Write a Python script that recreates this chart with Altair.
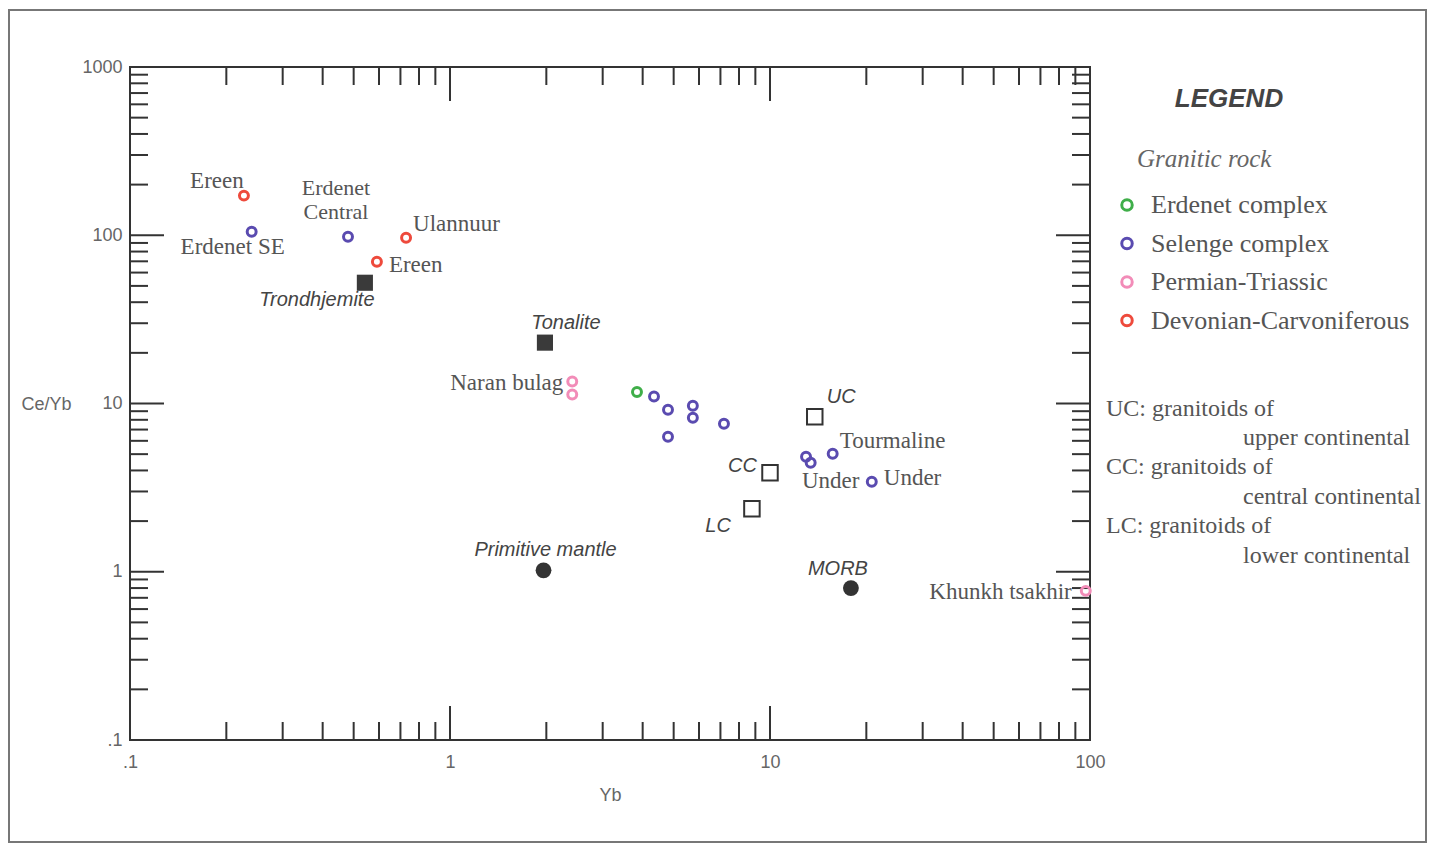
import altair as alt
import pandas as pd

# ---------------- data ----------------
groups = ["Erdenet complex", "Selenge complex", "Permian-Triassic", "Devonian-Carvoniferous"]
group_colors = ["#3fae49", "#5a4bb0", "#f28cb8", "#ee4a3c"]

sample_id = ["s1", "s2", "s3", "s4", "s5", "s6", "s7", "s8", "s9", "s10",
             "s11", "s12", "s13", "s14", "s15", "s16", "s17", "s18", "s19"]
sample_group = ["Devonian-Carvoniferous", "Devonian-Carvoniferous", "Devonian-Carvoniferous",
                "Selenge complex", "Selenge complex", "Selenge complex", "Selenge complex",
                "Selenge complex", "Selenge complex", "Selenge complex", "Selenge complex",
                "Selenge complex", "Selenge complex", "Selenge complex", "Selenge complex",
                "Erdenet complex", "Permian-Triassic", "Permian-Triassic", "Permian-Triassic"]
sample_yb = [0.227, 0.729, 0.591,
             0.240, 0.480, 4.34, 4.80, 5.74, 5.74, 7.18, 4.80, 12.96, 13.4, 15.7, 20.8,
             3.84, 2.41, 2.41, 97.0]
sample_ceyb = [172, 96.6, 69.6,
               105, 98, 11.0, 9.18, 9.70, 8.23, 7.58, 6.35, 4.83, 4.44, 5.03, 3.43,
               11.7, 13.5, 11.3, 0.77]
sample_label = ["Ereen", "Ulannuur", "Ereen",
                "Erdenet SE", "Erdenet\nCentral", "", "", "", "", "", "", "", "Under", "Tourmaline", "Under",
                "", "Naran bulag", "", "Khunkh tsakhir"]

ref_name = ["Trondhjemite", "Tonalite", "UC", "CC", "LC", "Primitive mantle", "MORB"]
ref_kind = ["filled square", "filled square", "open square", "open square", "open square",
            "filled circle", "filled circle"]
ref_yb = [0.542, 1.98, 13.8, 10.0, 8.78, 1.96, 17.9]
ref_ceyb = [52.2, 23.0, 8.34, 3.88, 2.37, 1.02, 0.80]

x_major = [1, 10]
x_minor = [0.2, 0.3, 0.4, 0.5, 0.6, 0.7, 0.8, 0.9, 2, 3, 4, 5, 6, 7, 8, 9,
           20, 30, 40, 50, 60, 70, 80, 90]
y_major = [1, 10, 100]
y_minor = [0.2, 0.3, 0.4, 0.5, 0.6, 0.7, 0.8, 0.9, 2, 3, 4, 5, 6, 7, 8, 9,
           20, 30, 40, 50, 60, 70, 80, 90, 200, 300, 400, 500, 600, 700, 800, 900]
x_labels = [0.1, 1, 10, 100]
y_labels = [0.1, 1, 10, 100, 1000]

note_lines = ["UC: granitoids of", "upper continental", "CC:  granitoids of",
              "central continental", "LC: granitoids of", "lower continental"]

# ---------------- layout / style ----------------
W, H = 960, 673
MAJ, MIN = 34, 18
INK = "#333333"
SERIF = "Liberation Serif"
SANS = "Liberation Sans"

samples = pd.DataFrame({"id": sample_id, "group": sample_group, "x": sample_yb,
                        "y": sample_ceyb, "label": sample_label})
refs = pd.DataFrame({"name": ref_name, "kind": ref_kind, "x": ref_yb, "y": ref_ceyb})

xs = alt.Scale(type="log", domain=[0.1, 100], nice=False)
ys = alt.Scale(type="log", domain=[0.1, 1000], nice=False)

xaxis = alt.Axis(values=x_labels, format="~g",
                 labelExpr="datum.value == 0.1 ? '.1' : datum.label",
                 ticks=False, tickSize=0, domain=False, grid=False, labelFlush=False,
                 labelFont=SANS, labelFontSize=18, labelColor="#666", labelPadding=13,
                 title="Yb", titleFont=SANS, titleFontSize=18, titleFontWeight="normal",
                 titleColor="#666", titleY=55, titleBaseline="middle")
yaxis = alt.Axis(values=y_labels, format="~g",
                 labelExpr="datum.value == 0.1 ? '.1' : datum.label",
                 ticks=False, tickSize=0, domain=False, grid=False, labelFlush=False,
                 labelFont=SANS, labelFontSize=18, labelColor="#666", labelPadding=8,
                 title="Ce/Yb", titleFont=SANS, titleFontSize=18, titleFontWeight="normal",
                 titleColor="#666", titleAngle=0, titleX=-84, titleY=337,
                 titleAlign="center", titleBaseline="middle")

X = alt.X("x:Q", scale=xs, axis=xaxis)
Y = alt.Y("y:Q", scale=ys, axis=yaxis)

layers = []

# outer frame of the figure
layers.append(
    alt.Chart(pd.DataFrame({"a": [0]})).mark_rect(fillOpacity=0, stroke="#777", strokeWidth=2)
    .encode(x=alt.value(-121), x2=alt.value(1296), y=alt.value(-57), y2=alt.value(775))
)

# inward ticks on all four sides
def xticks(vals, length):
    d = pd.DataFrame({"x": vals})
    bottom = alt.Chart(d).mark_rule(color=INK, strokeWidth=2).encode(
        x=X, y=alt.value(H), y2=alt.value(H - length))
    top = alt.Chart(d).mark_rule(color=INK, strokeWidth=2).encode(
        x=X, y=alt.value(0), y2=alt.value(length))
    return [bottom, top]

def yticks(vals, length):
    d = pd.DataFrame({"y": vals})
    left = alt.Chart(d).mark_rule(color=INK, strokeWidth=2).encode(
        y=Y, x=alt.value(0), x2=alt.value(length))
    right = alt.Chart(d).mark_rule(color=INK, strokeWidth=2).encode(
        y=Y, x=alt.value(W), x2=alt.value(W - length))
    return [left, right]

layers += xticks(x_minor, MIN) + xticks(x_major, MAJ)
layers += yticks(y_minor, MIN) + yticks(y_major, MAJ)

# reference compositions
layers.append(alt.Chart(refs).transform_filter("datum.kind == 'filled square'")
              .mark_square(size=260, color="#3a3a3a", opacity=1).encode(x=X, y=Y))
layers.append(alt.Chart(refs).transform_filter("datum.kind == 'open square'")
              .mark_square(size=240, filled=False, color="#333", strokeWidth=2, opacity=1)
              .encode(x=X, y=Y))
layers.append(alt.Chart(refs).transform_filter("datum.kind == 'filled circle'")
              .mark_circle(size=250, color="#333", opacity=1).encode(x=X, y=Y))

# samples
layers.append(
    alt.Chart(samples).mark_point(filled=False, size=80, strokeWidth=3, opacity=1)
    .encode(x=X, y=Y,
            color=alt.Color("group:N", scale=alt.Scale(domain=groups, range=group_colors),
                            legend=alt.Legend(orient="none", legendX=984, legendY=125,
                                              title=None, labelFont=SERIF, labelFontSize=26,
                                              labelColor="#555", labelLimit=0,
                                              symbolType="circle",
                                              symbolSize=110, symbolStrokeWidth=3,
                                              rowPadding=12.5, labelOffset=11, padding=0)))
)

# sample labels (offsets are styling)
sample_label_style = {
    "s1": ("center", -27, -15), "s2": ("left", 7, -14), "s3": ("left", 12, 3),
    "s4": ("center", -19, 15), "s13": ("center", 20, 18), "s14": ("left", 7, -13),
    "s15": ("left", 12, -4), "s17": ("right", -9, 1), "s19": ("right", -14, 1),
}
for sid, (al, dx, dy) in sample_label_style.items():
    layers.append(alt.Chart(samples).transform_filter(f"datum.id == '{sid}'")
                  .mark_text(font=SERIF, fontSize=23, color="#555", align=al, baseline="middle",
                             dx=dx, dy=dy)
                  .encode(x=X, y=Y, text="label:N"))
layers.append(alt.Chart(samples).transform_filter("datum.id == 's5'")
              .mark_text(font=SERIF, fontSize=22, color="#555", align="center", baseline="top",
                         dx=-12, dy=-59, lineBreak="\n", lineHeight=24)
              .encode(x=X, y=Y, text="label:N"))

ref_label_style = {
    "Trondhjemite": ("center", -48, 17), "Tonalite": ("center", 21, -20),
    "UC": ("left", 12, -20), "CC": ("right", -13, -7), "LC": ("right", -21, 17),
    "Primitive mantle": ("center", 2, -20), "MORB": ("center", -13, -19),
}
for nm, (al, dx, dy) in ref_label_style.items():
    layers.append(alt.Chart(refs).transform_filter(f"datum.name == '{nm}'")
                  .mark_text(font=SANS, fontSize=20, fontStyle="italic", color="#444",
                             align=al, baseline="middle", dx=dx, dy=dy)
                  .encode(x=X, y=Y, text="name:N"))

# legend heading and notes
one = pd.DataFrame({"a": [0]})
layers.append(alt.Chart(one).mark_text(text="LEGEND", font=SANS, fontSize=26, fontStyle="italic",
                                        fontWeight="bold", color="#444", align="center",
                                        baseline="middle")
              .encode(x=alt.value(1099), y=alt.value(32)))
layers.append(alt.Chart(one).mark_text(text="Granitic rock", font=SERIF, fontSize=25,
                                        fontStyle="italic", color="#666", align="left",
                                        baseline="middle")
              .encode(x=alt.value(1007), y=alt.value(92)))
note_y = [342, 371, 400, 430, 459, 489]
for i, line in enumerate(note_lines):
    layers.append(alt.Chart(one).mark_text(text=line, font=SERIF, fontSize=24, color="#555",
                                            align="left", baseline="middle")
                  .encode(x=alt.value(976 if i % 2 == 0 else 1113), y=alt.value(note_y[i])))

chart = (alt.layer(*layers)
         .properties(width=W, height=H, background="white",
                     autosize=alt.AutoSizeParams(type="none"),
                     padding={"left": 122, "top": 59, "right": 338, "bottom": 104})
         .configure_view(stroke=INK, strokeWidth=2))

chart.save("out.html", embed_options={"renderer": "svg", "actions": False})
